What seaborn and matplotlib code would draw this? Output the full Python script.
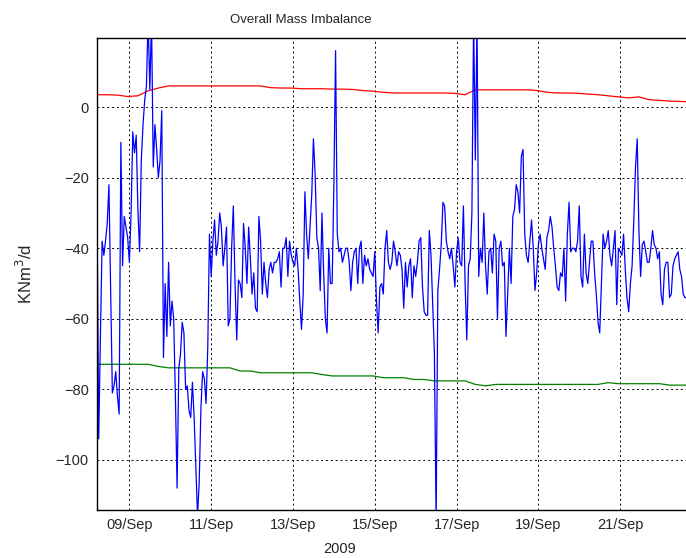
import numpy as np
import pandas as pd
import matplotlib
matplotlib.use('Agg')
import matplotlib.pyplot as plt
import matplotlib.dates as mdates
import seaborn as sns

# hourly overall mass imbalance, starting 08/Sep/2009 05:00
start = '2009-09-08 05:00'
imbalance = [
    -27, -94, -65, -38, -42, -38, -33, -22, -52, -81,
    -79, -75, -82, -87, -10, -45, -31, -34, -37, -44,
    -30, -7, -13, -8, -29, -41, -15, -5, 2, 6,
    25, 5, 25, -17, -5, -12, -20, -15, -1, -71,
    -50, -65, -44, -62, -55, -60, -82, -108, -74, -70,
    -61, -64, -80, -79, -86, -88, -78, -88, -102,
    -116, -106, -85, -75, -77, -84, -68, -36, -48, -38,
    -32, -42, -38, -30, -34, -45, -40, -34, -62, -60,
    -40, -28, -50, -66, -49, -50, -54, -33, -40, -50,
    -34, -43, -53, -47, -57, -58, -31, -38, -53, -44,
    -50, -54, -46, -44, -47, -44, -44, -43, -41, -51,
    -40, -40, -37, -48, -38,
    -42, -44, -45, -40, -46, -55, -63, -53, -24, -36,
    -43, -34, -25, -9, -19, -37, -40, -52, -30, -47,
    -60, -64, -40, -50, -50, -22, 16, -36, -41, -40,
    -44, -42, -40, -40, -44, -52, -44, -41, -40, -50,
    -40, -38, -50, -42, -45, -43, -46, -47, -48, -41,
    -55, -64, -51, -50, -53, -40,
    -35, -44, -46, -44, -38, -41, -45, -41, -42, -46,
    -57, -44, -51, -45, -43, -54, -45, -48, -44, -38,
    -37, -51, -58, -59, -59, -35, -42, -56, -70, -118,
    -52, -46, -39, -27, -28, -38, -41, -43, -40, -45,
    -51, -41, -37, -44, -45, -28, -50, -66, -45, -43,
    -30, 25, -15, 25, -48,
    -40, -44, -30, -45, -53, -41, -40, -47, -36, -38,
    -60, -40, -38, -45, -44, -65, -53, -40, -50, -31,
    -29, -22, -24, -30, -14, -12, -36, -42, -44, -38,
    -32, -40, -52, -47, -39, -36, -40, -43, -46, -37,
    -35, -31, -34, -40, -45, -51, -52, -47, -48, -40,
    -55, -36, -27, -41, -40,
    -40, -41, -38, -28, -48, -51, -36, -47, -50, -44,
    -38, -38, -47, -53, -61, -64, -50, -36, -40, -38,
    -35, -42, -45, -40, -35, -56, -40, -41, -42, -36,
    -46, -54, -58, -50, -45, -32, -17, -9, -35, -48,
    -39, -38, -41, -44, -44, -40, -35, -39, -40, -43,
    -41, -53, -56, -46, -44, -44, -54, -53, -45, -43,
    -42, -41, -46, -48, -53, -54, -54, -56,
]

# 6-hourly bounds
upper = [
    3.5, 3.5, 3.4, 3.0, 3.2, 4.6, 5.4, 6.0, 6.0, 6.0,
    6.0, 6.0, 6.0, 6.0, 6.0, 6.0, 6.0, 5.5, 5.4, 5.4,
    5.2, 5.2, 5.2, 5.1, 5.1, 5.0, 4.7, 4.5, 4.2, 4.0,
    4.0, 4.0, 4.0, 4.0, 4.0, 3.9, 3.5, 4.9, 4.9, 4.9,
    4.9, 4.9, 4.9, 4.7, 4.2, 4.0, 4.0, 3.9, 3.7, 3.5,
    3.2, 2.9, 2.6, 2.9, 2.1, 1.9, 1.7, 1.6, 1.5,
]
lower = [
    -72.9, -72.9, -72.9, -72.9, -72.9, -72.9, -73.5, -73.9, -73.9, -73.9,
    -73.9, -73.9, -73.9, -73.9, -74.8, -74.8, -75.3, -75.3, -75.3, -75.3,
    -75.3, -75.3, -75.8, -76.2, -76.2, -76.2, -76.2, -76.2, -76.7, -76.7,
    -76.7, -77.2, -77.2, -77.6, -77.6, -77.6, -77.6, -78.6, -79.0, -78.6,
    -78.6, -78.6, -78.6, -78.6, -78.6, -78.6, -78.6, -78.6, -78.6, -78.6,
    -78.1, -78.4, -78.4, -78.4, -78.4, -78.4, -78.8, -78.8, -78.8,
]

t_hour = pd.date_range(start, periods=len(imbalance), freq='h')
t_6h = pd.date_range(start, periods=len(upper), freq='6h')

sns.set_style('white')
plt.rcParams['font.family'] = ['Liberation Sans', 'DejaVu Sans']

fig = plt.figure(figsize=(6.86, 5.58), dpi=100)
ax = fig.add_axes([0.1414, 0.086, 0.862, 0.846])

sns.lineplot(x=t_6h, y=upper, color='red', lw=0.9, ax=ax)
sns.lineplot(x=t_6h, y=lower, color='green', lw=0.9, ax=ax)
sns.lineplot(x=t_hour, y=imbalance, color='blue', lw=0.9, ax=ax)

ax.set_xlim(t_hour[0], t_hour[-1])
ax.set_ylim(-114.2, 19.6)
ax.set_yticks(np.arange(-100, 1, 20))
ax.xaxis.set_major_locator(mdates.DayLocator(bymonthday=[9, 11, 13, 15, 17, 19, 21]))
ax.xaxis.set_major_formatter(mdates.DateFormatter('%d/%b'))

ax.grid(True, color='black', linestyle=(0, (2, 3)), lw=0.7)
ax.tick_params(direction='in', length=4, width=0.8, labelsize=10.5, color='black')
ax.tick_params(axis='x', pad=6)
ax.tick_params(axis='y', pad=6)
for s in ax.spines.values():
    s.set_color('black')
    s.set_linewidth(1)

ax.set_title('Overall Mass Imbalance', fontsize=9.5, x=0.345, pad=10.5)
ax.set_xlabel('2009', fontsize=10.5)
ax.xaxis.set_label_coords(0.411, -0.068)
ax.set_ylabel('KNm$^3$/d', fontsize=12)
ax.yaxis.set_label_coords(-0.105, 0.5)

fig.savefig('out.png', dpi=100)
